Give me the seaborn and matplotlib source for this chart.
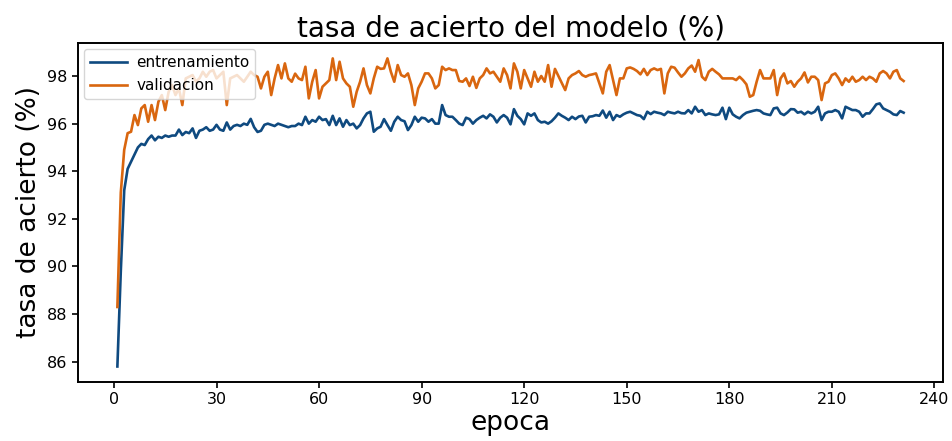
import matplotlib
matplotlib.use("Agg")
import matplotlib.pyplot as plt
import seaborn as sns
import pandas as pd

epochs = list(range(1, 232))

entrenamiento = [
    85.8, 89.8, 93.2, 94.1, 94.4, 94.7, 95.0, 95.15, 95.1, 95.35,
    95.5, 95.3, 95.45, 95.4, 95.5, 95.45, 95.5, 95.5, 95.75, 95.52,
    95.65, 95.6, 95.8, 95.4, 95.7, 95.75, 95.85, 95.7, 95.75, 95.95,
    95.75, 95.7, 96.05, 95.75, 95.9, 95.95, 95.9, 96.0, 95.95, 96.2,
    95.85, 95.65, 95.7, 95.95, 96.0, 95.95, 95.9, 96.0, 95.95, 95.9,
    95.85, 95.9, 95.9, 96.0, 95.94, 96.29, 96.0, 96.15, 96.08, 96.29,
    96.15, 96.19, 95.94, 96.33, 95.94, 96.22, 95.87, 96.15, 95.94, 96.0,
    95.8, 95.94, 96.22, 96.43, 96.5, 95.66, 95.8, 95.87, 96.19, 95.94,
    95.7, 96.08, 96.29, 96.15, 96.1, 95.73, 95.94, 96.29, 96.08, 96.25,
    96.22, 96.08, 96.19, 96.0, 96.0, 96.78, 96.36, 96.29, 96.29, 96.15,
    96.0, 95.94, 96.25, 96.19, 96.0, 96.15, 96.25, 96.33, 96.22, 96.39,
    96.29, 96.05, 96.25, 96.36, 96.25, 95.97, 96.61, 96.33, 96.19, 95.97,
    96.43, 96.33, 96.43, 96.15, 96.05, 96.08, 96.0, 96.1, 96.25, 96.43,
    96.33, 96.25, 96.15, 96.29, 96.19, 96.3, 96.33, 96.05, 96.29, 96.31,
    96.36, 96.33, 96.55, 96.25, 96.5, 96.15, 96.36, 96.29, 96.39, 96.46,
    96.5, 96.43, 96.36, 96.33, 96.19, 96.5, 96.4, 96.5, 96.46, 96.43,
    96.36, 96.5, 96.46, 96.43, 96.5, 96.44, 96.43, 96.57, 96.43, 96.71,
    96.5, 96.57, 96.36, 96.43, 96.39, 96.36, 96.39, 96.67, 96.19, 96.67,
    96.39, 96.29, 96.22, 96.36, 96.46, 96.5, 96.54, 96.57, 96.54, 96.43,
    96.39, 96.36, 96.64, 96.67, 96.43, 96.36, 96.47, 96.61, 96.6, 96.46,
    96.5, 96.39, 96.5, 96.43, 96.5, 96.71, 96.15, 96.43, 96.5, 96.5,
    96.57, 96.5, 96.22, 96.71, 96.64, 96.57, 96.57, 96.5, 96.29, 96.43,
    96.43, 96.61, 96.81, 96.85, 96.64, 96.57, 96.5, 96.39, 96.36, 96.53,
    96.46,
]

validacion = [
    88.3, 93.1, 94.9, 95.6, 95.66, 96.36, 95.94, 96.64, 96.78, 96.08,
    96.78, 96.15, 96.92, 97.2, 96.57, 97.34, 97.62, 97.2, 97.48, 96.78,
    97.9, 97.97, 98.04, 97.76, 97.9, 98.18, 97.97, 98.18, 98.25, 97.9,
    98.04, 98.18, 96.78, 97.9, 97.97, 98.04, 97.9, 97.76, 97.97, 98.18,
    98.04, 97.97, 97.48, 97.97, 98.18, 97.2, 97.9, 98.46, 97.9, 98.53,
    97.9, 97.76, 98.1, 97.9, 97.83, 98.39, 97.06, 97.76, 98.25, 97.06,
    97.55, 97.69, 97.83, 98.74, 97.83, 98.6, 97.9, 97.69, 97.55, 96.71,
    97.34, 97.76, 98.32, 97.62, 97.27, 97.9, 98.39, 98.3, 98.32, 98.74,
    98.18, 97.76, 98.46, 98.04, 97.97, 98.11, 97.62, 96.78, 97.48, 97.76,
    98.11, 98.11, 97.9, 97.48, 97.62, 98.39, 98.25, 98.32, 98.25, 98.25,
    97.79, 97.76, 97.9, 97.58, 97.97, 97.5, 97.9, 98.04, 98.32, 98.11,
    98.18, 97.97, 97.76, 98.32, 98.04, 97.48, 98.53, 98.18, 97.48, 98.25,
    97.9, 97.55, 98.18, 97.76, 98.0, 97.76, 98.46, 97.55, 98.3, 98.0,
    97.69, 97.41, 97.9, 98.04, 98.11, 98.21, 98.04, 97.97, 98.04, 98.07,
    98.11, 97.69, 97.27, 98.18, 98.46, 97.83, 97.2, 97.9, 97.9, 98.32,
    98.36, 98.3, 98.21, 98.07, 98.3, 98.04, 98.25, 98.32, 98.25, 98.3,
    97.27, 98.11, 98.39, 98.35, 98.15, 97.97, 98.11, 98.32, 98.44, 98.18,
    98.67, 97.97, 97.83, 98.18, 98.3, 98.18, 98.07, 97.9, 97.9, 97.9,
    97.9, 97.83, 97.97, 97.83, 97.65, 97.13, 97.2, 97.76, 98.25, 97.9,
    97.9, 97.9, 98.25, 97.2, 97.9, 98.11, 97.69, 97.79, 97.55, 97.76,
    97.9, 98.15, 97.73, 97.97, 97.97, 97.83, 96.99, 97.69, 97.76, 98.04,
    98.11, 97.9, 97.62, 97.9, 97.76, 97.97, 97.76, 97.83, 97.97, 97.83,
    97.97, 97.9, 97.76, 98.11, 98.21, 98.11, 97.9, 98.18, 98.25, 97.9,
    97.79,
]

series_names = ["entrenamiento", "validacion"]
colors = ["#0f4a80", "#d9660f"]
x_ticks = [0, 30, 60, 90, 120, 150, 180, 210, 240]
y_ticks = [86, 88, 90, 92, 94, 96, 98]

df = pd.DataFrame({
    "epoca": epochs * 2,
    "valor": entrenamiento + validacion,
    "serie": [series_names[0]] * len(epochs) + [series_names[1]] * len(epochs),
})

fig, ax = plt.subplots(figsize=(9.52, 4.41), dpi=100)
fig.subplots_adjust(left=0.082, right=0.9905, top=0.9025, bottom=0.134)

sns.lineplot(data=df, x="epoca", y="valor", hue="serie",
             palette=dict(zip(series_names, colors)), linewidth=1.9, ax=ax)

handles, labels = ax.get_legend_handles_labels()
ax.legend(handles, labels, loc="upper left", fontsize=11, handlelength=2.4,
          handletextpad=0.6, borderaxespad=0.4, framealpha=0.8)

ax.set_xticks(x_ticks)
ax.set_yticks(y_ticks)
ax.tick_params(axis="both", labelsize=11.5, length=4, width=1.2)
for s in ax.spines.values():
    s.set_linewidth(1.4)
    s.set_color("black")

ax.set_title("tasa de acierto del modelo (%)", fontsize=20, pad=5)
ax.set_xlabel("epoca", fontsize=19, labelpad=2)
ax.set_ylabel("tasa de acierto (%)", fontsize=19)

fig.savefig("out.png", dpi=100)
